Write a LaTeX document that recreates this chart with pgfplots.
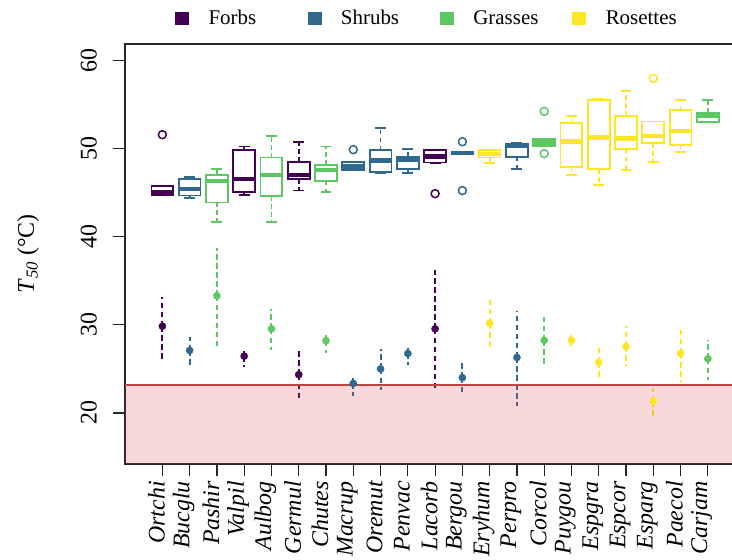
\documentclass[border=0pt]{standalone}
\usepackage{fontspec}
\IfFontExistsTF{LiberationSerif-Regular.ttf}{%
  \setmainfont{LiberationSerif-Regular.ttf}[ItalicFont=LiberationSerif-Italic.ttf, BoldFont=LiberationSerif-Bold.ttf, BoldItalicFont=LiberationSerif-BoldItalic.ttf]}{%
  \setmainfont{Liberation Serif}}
\usepackage{pgfplots}
\pgfplotsset{compat=1.18}
\usepgfplotslibrary{statistics}
\definecolor{cF}{HTML}{440154}
\definecolor{cS}{HTML}{31688E}
\definecolor{cG}{HTML}{5DC863}
\definecolor{cR}{HTML}{FDE725}
\definecolor{pinkc}{RGB}{220,60,70}
\definecolor{redline}{RGB}{185,70,65}
\pgfplotsset{
  boxplot/draw/lower whisker/.code={%
    \draw[/pgfplots/boxplot/every whisker/.try, dash pattern=on 4.5bp off 3.5bp]
      (boxplot cs:\pgfplotsboxplotvalue{lower quartile}) -- (boxplot cs:\pgfplotsboxplotvalue{lower whisker});
    \draw[/pgfplots/boxplot/every whisker/.try]
      (boxplot whisker cs:\pgfplotsboxplotvalue{lower whisker},0) -- (boxplot whisker cs:\pgfplotsboxplotvalue{lower whisker},1);
  },
  boxplot/draw/upper whisker/.code={%
    \draw[/pgfplots/boxplot/every whisker/.try, dash pattern=on 4.5bp off 3.5bp]
      (boxplot cs:\pgfplotsboxplotvalue{upper quartile}) -- (boxplot cs:\pgfplotsboxplotvalue{upper whisker});
    \draw[/pgfplots/boxplot/every whisker/.try]
      (boxplot whisker cs:\pgfplotsboxplotvalue{upper whisker},0) -- (boxplot whisker cs:\pgfplotsboxplotvalue{upper whisker},1);
  },
}
\newcommand{\bp}[8]{\addplot[boxplot prepared={draw position=#1, lower whisker=#3, lower quartile=#4, median=#5, upper quartile=#6, upper whisker=#7}, color=#2, mark=o, mark size=4bp, mark options={line width=1.5bp, solid}, forget plot] coordinates {#8};}
\pgfplotsset{pts/.style={only marks, mark=*, mark size=3.6bp, color=#1, forget plot,
  error bars/.cd, y dir=both, y explicit, error mark=none,
  error bar style={line width=2bp, dash pattern=on 5.5bp off 3.5bp, color=#1}}}
\begin{document}
\begin{tikzpicture}
\useasboundingbox (0,0) rectangle (732bp,560bp);
\begin{axis}[
  at={(125bp,96bp)}, anchor=south west,
  scale only axis, width=620.2bp, height=420bp,
  xmin=-0.37, xmax=22.37, ymin=14.2, ymax=61.9,
  axis line style={line width=1.2bp, black!85},
  tick align=outside, major tick length=12bp,
  tick style={line width=1.2bp, black!85},
  xtick pos=bottom, ytick pos=left,
  xtick={1,...,21},
  xticklabels={Ortchi,Bucglu,Pashir,Valpil,Aulbog,Germul,Chutes,Macrup,Oremut,Penvac,Lacorb,Bergou,Eryhum,Perpro,Corcol,Puygou,Espgra,Espcor,Esparg,Paecol,Carjam},
  ytick={20,30,40,50,60},
  /pgf/number format/assume math mode=true,
  tick label style={font=\fontsize{24}{28}\selectfont},
  xticklabel style={rotate=90, anchor=east, inner sep=0pt, xshift=-5bp, yshift=6bp, font=\fontsize{24}{28}\selectfont\itshape},
  yticklabel style={rotate=90, anchor=south, inner sep=0pt, yshift=16bp},
  ylabel={\textit{T}\textsubscript{\textit{50}} (°C)},
  ylabel style={font=\fontsize{24}{28}\selectfont, at={(axis description cs:-0.156,0.5)}, anchor=center},
  boxplot/draw direction=y,
  boxplot/box extend=0.8,
  boxplot/whisker extend=0.4,
  boxplot/every box/.style={line width=1.8bp},
  boxplot/every median/.style={line width=4.5bp},
  boxplot/every whisker/.style={line width=1.8bp},
  legend columns=4,
  legend image code/.code={\fill (0bp,-6bp) rectangle (13bp,6bp);},
  legend style={draw=none, fill=none, inner sep=0pt, at={(0.0806,1.062)}, anchor=west,
    font=\fontsize{21}{24}\selectfont, nodes={inner sep=0pt},
    /tikz/every odd column/.append style={column sep=20bp}},
]
\addlegendimage{cF}\addlegendentry{\makebox[99bp][l]{Forbs}}
\addlegendimage{cS}\addlegendentry{\makebox[99bp][l]{Shrubs}}
\addlegendimage{cG}\addlegendentry{\makebox[99bp][l]{Grasses}}
\addlegendimage{cR}\addlegendentry{\makebox[99bp][l]{Rosettes}}
% boxplots: pos, colour, lower whisker, Q1, median, Q3, upper whisker, outliers
\bp{1}{cF}{44.75}{44.75}{45.05}{45.8}{45.8}{(0,51.6)}
\bp{2}{cS}{44.45}{44.7}{45.45}{46.55}{46.8}{}
\bp{3}{cG}{41.7}{43.9}{46.35}{47.05}{47.7}{}
\bp{4}{cF}{44.75}{45.05}{46.55}{49.85}{50.25}{}
\bp{5}{cG}{41.7}{44.6}{47.05}{49.0}{51.45}{}
\bp{6}{cF}{45.25}{46.55}{47.05}{48.5}{50.8}{}
\bp{7}{cG}{45.1}{46.35}{47.6}{48.2}{50.25}{}
\bp{8}{cS}{47.55}{47.55}{48.0}{48.5}{48.5}{(0,49.9)}
\bp{9}{cS}{47.25}{47.35}{48.65}{49.85}{52.4}{}
\bp{10}{cS}{47.25}{47.7}{48.8}{49.1}{50.0}{}
\bp{11}{cF}{48.4}{48.45}{49.1}{49.85}{49.9}{(0,44.9)}
\bp{12}{cS}{49.4}{49.4}{49.5}{49.6}{49.6}{(0,50.8) (0,45.25)}
\bp{13}{cR}{48.35}{49.0}{49.4}{49.85}{49.85}{}
\bp{14}{cS}{47.7}{49.1}{50.35}{50.5}{50.65}{}
\bp{15}{cG}{50.3}{50.35}{50.7}{51.1}{51.15}{(0,54.25) (0,49.45)}
\bp{16}{cR}{47.05}{47.9}{50.8}{52.95}{53.75}{}
\bp{17}{cR}{45.9}{47.7}{51.3}{55.55}{55.7}{}
\bp{18}{cR}{47.55}{50.0}{51.15}{53.75}{56.55}{}
\bp{19}{cR}{48.5}{50.65}{51.45}{53.1}{53.1}{(0,58.0)}
\bp{20}{cR}{49.65}{50.4}{52.0}{54.4}{55.55}{}
\bp{21}{cG}{53.0}{53.0}{53.75}{54.1}{55.55}{}
% points with intervals
\addplot[pts=cF] coordinates {
 (1,29.85) += (0,3.30) -= (0,4.05)
 (4,26.45) += (0,0.85) -= (0,1.25)
 (6,24.35) += (0,2.75) -= (0,3.00)
 (11,29.55) += (0,6.70) -= (0,6.80)
};
\addplot[pts=cS] coordinates {
 (2,27.10) += (0,1.50) -= (0,1.90)
 (8,23.35) += (0,0.65) -= (0,1.45)
 (9,25.00) += (0,2.30) -= (0,2.45)
 (10,26.75) += (0,0.80) -= (0,1.25)
 (12,24.00) += (0,1.70) -= (0,1.80)
 (14,26.30) += (0,5.25) -= (0,5.55)
};
\addplot[pts=cG] coordinates {
 (3,33.30) += (0,5.45) -= (0,5.75)
 (5,29.55) += (0,2.20) -= (0,2.45)
 (7,28.20) += (0,0.70) -= (0,1.40)
 (15,28.25) += (0,3.00) -= (0,2.95)
 (21,26.15) += (0,2.10) -= (0,2.45)
};
\addplot[pts=cR] coordinates {
 (13,30.20) += (0,2.60) -= (0,2.90)
 (16,28.25) += (0,0.85) -= (0,0.95)
 (17,25.75) += (0,1.70) -= (0,1.75)
 (18,27.55) += (0,2.35) -= (0,2.25)
 (19,21.35) += (0,1.50) -= (0,1.90)
 (20,26.75) += (0,2.85) -= (0,3.25)
};
% shaded region and threshold line
\addplot[draw=none, fill=pinkc, fill opacity=0.2, forget plot] coordinates {(-1,10) (23,10) (23,23.15) (-1,23.15)} -- cycle;
\addplot[color=redline, line width=1.5bp, forget plot] coordinates {(-1,23.15) (23,23.15)};
\end{axis}
\end{tikzpicture}
\end{document}
